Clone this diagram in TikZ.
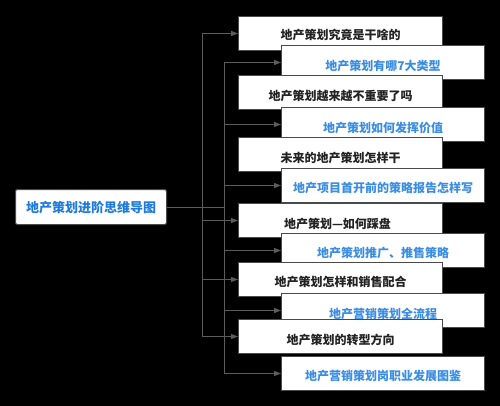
\documentclass[tikz,border=0pt]{standalone}
\usepackage{fontspec}
\newfontfamily\cjk{Noto Sans CJK SC}
\usetikzlibrary{arrows.meta}
\definecolor{lineg}{HTML}{5C5C5C}
\definecolor{boxb}{HTML}{4A4A4A}
\definecolor{bluet}{HTML}{3A8DE3}
\definecolor{maint}{HTML}{1E7BDB}
\definecolor{darkt}{HTML}{222222}
\begin{document}
\begin{tikzpicture}[x=1pt,y=-1pt,
  conn/.style={draw=lineg, line width=1pt},
  arr/.style={conn, -{Triangle[length=7pt,width=5pt]}},
  boxa/.style={draw=boxb, line width=1pt, fill=white, minimum width=204pt, minimum height=34pt, inner sep=0pt, anchor=north west},
  boxc/.style={boxa, minimum width=203pt},
  blacktxt/.style={font=\cjk\bfseries\fontsize{12}{14}\selectfont, text=darkt, inner sep=0pt},
  bluetxt/.style={font=\cjk\bfseries\fontsize{12}{14}\selectfont, text=bluet, inner sep=0pt}]
\fill[black] (0,0) rectangle (500,406);
\useasboundingbox (0,0) rectangle (500,406);

\node[draw=boxb, line width=1pt, fill=white, rounded corners=2pt, minimum width=151pt, minimum height=35pt, inner sep=0pt, anchor=north west] (main) at (15,189) {};
\node[font=\cjk\bfseries\fontsize{13}{15}\selectfont, text=maint, inner sep=0pt] (maintext) at ([yshift=-1pt]main.center) {地产策划进阶思维导图};

\coordinate (jA) at (202,207);
\coordinate (jB) at (224,207);

\node[boxa] (b1) at (238,16) {};
\node[blacktxt] (t1) at ([yshift=-1pt]b1.center) {地产策划究竟是干啥的};
\node[boxc] (b2) at (281,45) {};
\node[bluetxt] (t2) at ([yshift=-3pt]b2.center) {地产策划有哪7大类型};
\node[boxa] (b3) at (238,75) {};
\node[blacktxt] (t3) at ([yshift=-3pt]b3.center) {地产策划越来越不重要了吗};
\node[boxc] (b4) at (281,107) {};
\node[bluetxt] (t4) at ([yshift=-3pt]b4.center) {地产策划如何发挥价值};
\node[boxa] (b5) at (238,137) {};
\node[blacktxt] (t5) at ([yshift=-3pt]b5.center) {未来的地产策划怎样干};
\node[boxc] (b6) at (281,168) {};
\node[bluetxt] (t6) at ([yshift=-2pt]b6.center) {地产项目首开前的策略报告怎样写};
\node[boxa] (b7) at (238,203) {};
\node[blacktxt, anchor=center] (t7) at ([xshift=-3pt,yshift=-3pt]b7.center) {地产策划—如何踩盘};
\node[boxc] (b8) at (281,233) {};
\node[bluetxt] (t8) at ([yshift=-2pt]b8.center) {地产策划推广、推售策略};
\node[boxa] (b9) at (238,262) {};
\node[blacktxt] (t9) at ([yshift=-2pt]b9.center) {地产策划怎样和销售配合};
\node[boxc] (b10) at (281,293) {};
\node[bluetxt] (t10) at ([yshift=-3pt]b10.center) {地产营销策划全流程};
\node[boxa] (b11) at (238,319) {};
\node[blacktxt] (t11) at ([yshift=-3pt]b11.center) {地产策划的转型方向};
\node[boxc] (b12) at (281,356) {};
\node[bluetxt] (t12) at ([yshift=-2pt]b12.center) {地产营销策划岗职业发展图鉴};

\draw[conn] (main.east) -- (jB);
\draw[arr] (jA) |- (b1.west);
\draw[arr] (jA) |- (b7.west);
\draw[arr] (jA) |- (b9.west);
\draw[arr] (jA) |- (b11.west);
\draw[arr] (jB) |- (b2.west);
\draw[arr] (jB) |- (b4.west);
\draw[arr] (jB) |- (b6.west);
\draw[arr] (jB) |- (b8.west);
\draw[arr] (jB) |- (b10.west);
\draw[arr] (jB) |- (b12.west);
\end{tikzpicture}
\end{document}
